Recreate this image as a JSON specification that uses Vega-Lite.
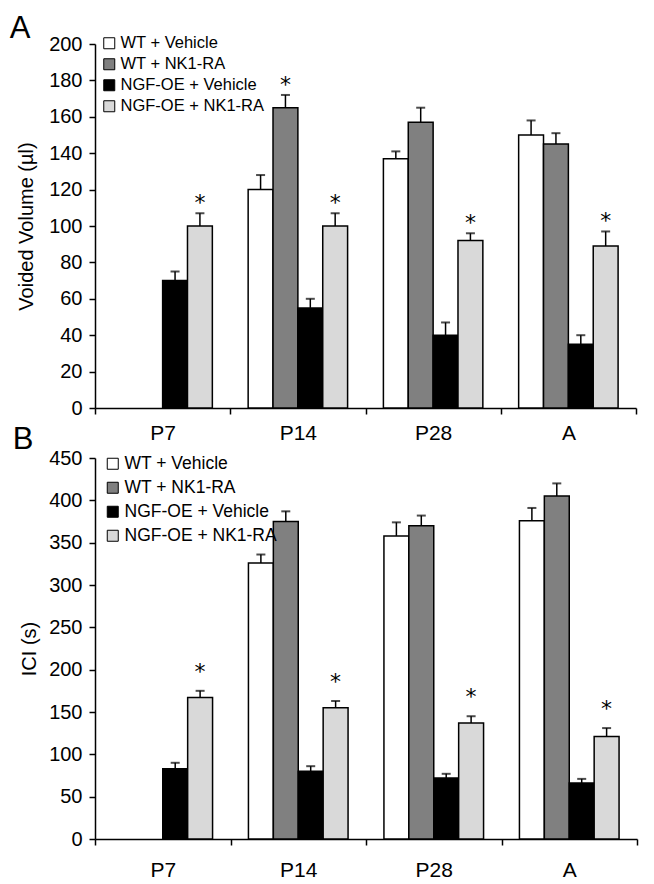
{
  "$schema": "https://vega.github.io/schema/vega-lite/v6.json",
  "background": "white",
  "padding": {"left": 9, "top": 13, "right": 5, "bottom": 5},
  "bounds": "flush",
  "spacing": 50,
  "config": {
    "font": "Liberation Sans",
    "view": {"stroke": null},
    "axis": {"domainColor": "black", "domainWidth": 1.5, "tickColor": "black", "tickWidth": 1.5, "tickSize": 6, "labelColor": "black", "labelFont": "Liberation Sans", "labelFontSize": 20, "labelOverlap": false, "titleColor": "black", "titleFont": "Liberation Sans", "titleFontSize": 20, "titleFontWeight": "normal", "grid": false},
    "legend": {"orient": "none", "title": null, "symbolType": "square", "symbolSize": 121, "symbolStrokeColor": "black", "symbolStrokeWidth": 1, "symbolOpacity": 1, "labelColor": "black", "labelFont": "Liberation Sans", "labelOffset": 3}
  },
  "resolve": {"scale": {"x": "independent", "y": "independent", "color": "independent", "xOffset": "independent"}, "legend": {"color": "independent"}},
  "datasets": {
    "vv": [
      {"period": "P7", "group": "NGF-OE + Vehicle", "value": 70, "err": 75, "star": false},
      {"period": "P7", "group": "NGF-OE + NK1-RA", "value": 100, "err": 107, "star": true},
      {"period": "P14", "group": "WT + Vehicle", "value": 120, "err": 128, "star": false},
      {"period": "P14", "group": "WT + NK1-RA", "value": 165, "err": 172, "star": true},
      {"period": "P14", "group": "NGF-OE + Vehicle", "value": 55, "err": 60, "star": false},
      {"period": "P14", "group": "NGF-OE + NK1-RA", "value": 100, "err": 107, "star": true},
      {"period": "P28", "group": "WT + Vehicle", "value": 137, "err": 141, "star": false},
      {"period": "P28", "group": "WT + NK1-RA", "value": 157, "err": 165, "star": false},
      {"period": "P28", "group": "NGF-OE + Vehicle", "value": 40, "err": 47, "star": false},
      {"period": "P28", "group": "NGF-OE + NK1-RA", "value": 92, "err": 96, "star": true},
      {"period": "A", "group": "WT + Vehicle", "value": 150, "err": 158, "star": false},
      {"period": "A", "group": "WT + NK1-RA", "value": 145, "err": 151, "star": false},
      {"period": "A", "group": "NGF-OE + Vehicle", "value": 35, "err": 40, "star": false},
      {"period": "A", "group": "NGF-OE + NK1-RA", "value": 89, "err": 97, "star": true}
    ],
    "ici": [
      {"period": "P7", "group": "NGF-OE + Vehicle", "value": 83, "err": 90, "star": false},
      {"period": "P7", "group": "NGF-OE + NK1-RA", "value": 167, "err": 175, "star": true},
      {"period": "P14", "group": "WT + Vehicle", "value": 326, "err": 336, "star": false},
      {"period": "P14", "group": "WT + NK1-RA", "value": 375, "err": 387, "star": false},
      {"period": "P14", "group": "NGF-OE + Vehicle", "value": 80, "err": 86, "star": false},
      {"period": "P14", "group": "NGF-OE + NK1-RA", "value": 155, "err": 163, "star": true},
      {"period": "P28", "group": "WT + Vehicle", "value": 358, "err": 374, "star": false},
      {"period": "P28", "group": "WT + NK1-RA", "value": 370, "err": 382, "star": false},
      {"period": "P28", "group": "NGF-OE + Vehicle", "value": 72, "err": 77, "star": false},
      {"period": "P28", "group": "NGF-OE + NK1-RA", "value": 137, "err": 145, "star": true},
      {"period": "A", "group": "WT + Vehicle", "value": 376, "err": 391, "star": false},
      {"period": "A", "group": "WT + NK1-RA", "value": 405, "err": 420, "star": false},
      {"period": "A", "group": "NGF-OE + Vehicle", "value": 66, "err": 71, "star": false},
      {"period": "A", "group": "NGF-OE + NK1-RA", "value": 121, "err": 131, "star": true}
    ]
  },
  "vconcat": [
    {
      "title": {"text": "A", "anchor": "start", "frame": "bounds", "fontSize": 31, "fontWeight": "normal", "color": "black", "font": "Liberation Sans", "offset": 0, "dx": -7, "dy": 11},
      "width": 541,
      "height": 364,
      "data": {"name": "vv"},
      "encoding": {
        "x": {"field": "period", "type": "nominal", "sort": ["P7", "P14", "P28", "A"], "scale": {"paddingInner": 0, "paddingOuter": 0}, "axis": {"title": null, "labelAngle": 0, "tickBand": "extent", "labelPadding": 8, "labelFontSize": 21}},
        "xOffset": {"field": "group", "type": "nominal", "scale": {"domain": ["WT + Vehicle", "WT + NK1-RA", "NGF-OE + Vehicle", "NGF-OE + NK1-RA"], "paddingInner": 0, "paddingOuter": 0.72}}
      },
      "layer": [
        {
          "mark": {"type": "bar", "stroke": "black", "strokeWidth": 1.5},
          "encoding": {
            "y": {"field": "value", "type": "quantitative", "title": "Voided Volume (µl)", "scale": {"domain": [0, 200]}, "axis": {"values": [0, 20, 40, 60, 80, 100, 120, 140, 160, 180, 200], "labelOverlap": false, "labelPadding": 7, "titlePadding": 12}},
            "color": {"field": "group", "type": "nominal", "scale": {"domain": ["WT + Vehicle", "WT + NK1-RA", "NGF-OE + Vehicle", "NGF-OE + NK1-RA"], "range": ["#ffffff", "#808080", "#000000", "#d9d9d9"]}, "legend": {"legendX": 6, "legendY": -9, "labelFontSize": 16.5, "rowPadding": 4}}
          }
        },
        {
          "mark": {"type": "rule", "color": "black", "strokeWidth": 1.5},
          "encoding": {"y": {"field": "value", "type": "quantitative", "title": "Voided Volume (µl)", "scale": {"domain": [0, 200]}, "axis": {"values": [0, 20, 40, 60, 80, 100, 120, 140, 160, 180, 200], "labelOverlap": false, "labelPadding": 7, "titlePadding": 12}}, "y2": {"field": "err"}}
        },
        {
          "mark": {"type": "tick", "orient": "horizontal", "color": "black", "thickness": 2, "size": 9},
          "encoding": {"y": {"field": "err", "type": "quantitative", "title": "Voided Volume (µl)", "scale": {"domain": [0, 200]}, "axis": {"values": [0, 20, 40, 60, 80, 100, 120, 140, 160, 180, 200], "labelOverlap": false, "labelPadding": 7, "titlePadding": 12}}}
        },
        {
          "transform": [{"filter": "datum.star"}],
          "mark": {"type": "text", "text": "*", "fontSize": 22, "baseline": "alphabetic", "dy": -3, "color": "black", "font": "DejaVu Sans"},
          "encoding": {"y": {"field": "err", "type": "quantitative", "title": "Voided Volume (µl)", "scale": {"domain": [0, 200]}, "axis": {"values": [0, 20, 40, 60, 80, 100, 120, 140, 160, 180, 200], "labelOverlap": false, "labelPadding": 7, "titlePadding": 12}}}
        }
      ]
    },
    {
      "title": {"text": "B", "anchor": "start", "frame": "bounds", "fontSize": 31, "fontWeight": "normal", "color": "black", "font": "Liberation Sans", "offset": 0, "dx": -7, "dy": 8},
      "width": 542,
      "height": 381,
      "data": {"name": "ici"},
      "encoding": {
        "x": {"field": "period", "type": "nominal", "sort": ["P7", "P14", "P28", "A"], "scale": {"paddingInner": 0, "paddingOuter": 0}, "axis": {"title": null, "labelAngle": 0, "tickBand": "extent", "labelPadding": 14, "labelFontSize": 21}},
        "xOffset": {"field": "group", "type": "nominal", "scale": {"domain": ["WT + Vehicle", "WT + NK1-RA", "NGF-OE + Vehicle", "NGF-OE + NK1-RA"], "paddingInner": 0, "paddingOuter": 0.72}}
      },
      "layer": [
        {
          "mark": {"type": "bar", "stroke": "black", "strokeWidth": 1.5},
          "encoding": {
            "y": {"field": "value", "type": "quantitative", "title": "ICI (s)", "scale": {"domain": [0, 450]}, "axis": {"values": [0, 50, 100, 150, 200, 250, 300, 350, 400, 450], "labelOverlap": false, "labelPadding": 7, "titlePadding": 9}},
            "color": {"field": "group", "type": "nominal", "scale": {"domain": ["WT + Vehicle", "WT + NK1-RA", "NGF-OE + Vehicle", "NGF-OE + NK1-RA"], "range": ["#ffffff", "#808080", "#000000", "#d9d9d9"]}, "legend": {"legendX": 9, "legendY": -3, "labelFontSize": 17.5, "rowPadding": 5}}
          }
        },
        {
          "mark": {"type": "rule", "color": "black", "strokeWidth": 1.5},
          "encoding": {"y": {"field": "value", "type": "quantitative", "title": "ICI (s)", "scale": {"domain": [0, 450]}, "axis": {"values": [0, 50, 100, 150, 200, 250, 300, 350, 400, 450], "labelOverlap": false, "labelPadding": 7, "titlePadding": 9}}, "y2": {"field": "err"}}
        },
        {
          "mark": {"type": "tick", "orient": "horizontal", "color": "black", "thickness": 2, "size": 9},
          "encoding": {"y": {"field": "err", "type": "quantitative", "title": "ICI (s)", "scale": {"domain": [0, 450]}, "axis": {"values": [0, 50, 100, 150, 200, 250, 300, 350, 400, 450], "labelOverlap": false, "labelPadding": 7, "titlePadding": 9}}}
        },
        {
          "transform": [{"filter": "datum.star"}],
          "mark": {"type": "text", "text": "*", "fontSize": 22, "baseline": "alphabetic", "dy": -12, "color": "black", "font": "DejaVu Sans"},
          "encoding": {"y": {"field": "err", "type": "quantitative", "title": "ICI (s)", "scale": {"domain": [0, 450]}, "axis": {"values": [0, 50, 100, 150, 200, 250, 300, 350, 400, 450], "labelOverlap": false, "labelPadding": 7, "titlePadding": 9}}}
        }
      ]
    }
  ]
}
